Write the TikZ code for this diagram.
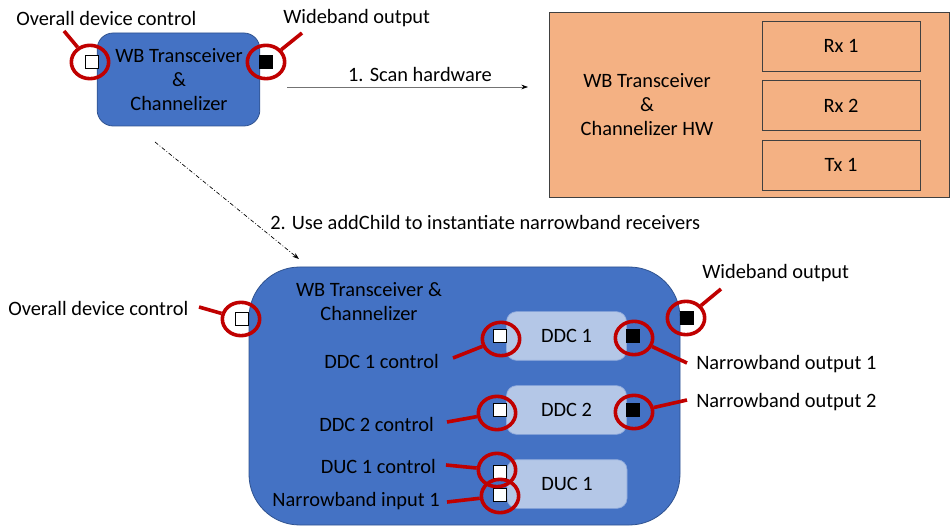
\documentclass[tikz,border=0pt]{standalone}
\usepackage{fontspec}
\setmainfont{Carlito}
\usepackage{tikz}
\usetikzlibrary{arrows.meta,shapes.geometric}

\definecolor{wbblue}{HTML}{4472C4}
\definecolor{wbedge}{HTML}{2F528F}
\definecolor{ddcfill}{HTML}{B4C7E7}
\definecolor{ddcedge}{HTML}{8FAADC}
\definecolor{hwfill}{HTML}{F4B183}
\definecolor{hwedge}{HTML}{404040}
\definecolor{ringred}{HTML}{C00000}

\tikzset{
  txt/.style={inner sep=0.75pt, font=\fontsize{15.3}{18}\selectfont},
  wbbox/.style={draw=wbedge, fill=wbblue, line width=0.6pt},
  ddcbox/.style={draw=ddcedge, fill=ddcfill, line width=0.5pt, rounded corners=7.5pt,
    minimum width=90pt, minimum height=36.5pt, txt},
  hwbox/.style={draw=hwedge, fill=hwfill, line width=0.6pt},
  rxbox/.style={hwbox, minimum width=118.5pt, minimum height=37.5pt, txt},
  inport/.style={draw=black, fill=white, line width=0.5pt, minimum size=10pt, inner sep=0pt},
  outport/.style={inport, fill=black},
  ring/.style={ellipse, draw=ringred, line width=2.7pt, minimum width=28pt, minimum height=25pt, inner sep=0pt},
  leader/.style={draw=ringred, line width=2.7pt},
}

\begin{document}
\begin{tikzpicture}[x=0.75pt,y=0.75pt,yscale=-1,xscale=1]
\useasboundingbox (0,0) rectangle (950,527);

% Scanned hardware
\node[hwbox, minimum width=300pt, minimum height=138.75pt] (hw) at (749,104.5) {};
\node[txt, align=center] (hwtext) at (647,105) {WB Transceiver\\\&\\Channelizer HW};
\node[rxbox] (rxone) at (841,46) {Rx 1};
\node[rxbox] (rxtwo) at (841,105.5) {Rx 2};
\node[rxbox] (txone) at (841,165) {Tx 1};

% Small device block
\node[wbbox, rounded corners=12pt, minimum width=122pt, minimum height=69.75pt] (wbsmall) at (178.5,79.5) {};
\node[txt, align=center] (wbsmalltext) at (179,80) {WB Transceiver\\\&\\Channelizer};
\node[inport] (ctlsmall) at (92,62) {};
\node[outport] (outsmall) at (266,62) {};
\node[ring] (ringctlsmall) at (90,62) {};
\node[ring] (ringoutsmall) at (266,62) {};
\coordinate (tipctlsmall) at (64,31);
\coordinate (tipoutsmall) at (302,33);
\draw[leader] (ringctlsmall) -- (tipctlsmall);
\draw[leader] (ringoutsmall) -- (tipoutsmall);
\node[txt, anchor=west] (lblctlsmall) at (15,18) {Overall device control};
\node[txt, anchor=west] (lbloutsmall) at (282,18) {Wideband output};

% Step 1
\coordinate (scanfrom) at (287,87);
\coordinate (scanto) at (528,87);
\draw[black!55, line width=0.5pt, -{Stealth[length=5pt, width=3.5pt, black]}] (scanfrom) -- (scanto);
\node[txt] (lblscan) at (420,75) {1. Scan hardware};

% Step 2
\coordinate (childfrom) at (155,142);
\coordinate (childto) at (299,259);
\draw[black, line width=0.5pt, dash pattern=on 3pt off 1.5pt on 0.6pt off 1.5pt, -{Stealth[length=5pt, width=3.5pt]}] (childfrom) -- (childto);
\node[txt, anchor=west] (lblchild) at (269,222) {2. Use addChild to instantiate narrowband receivers};

% Device block with children
\node[wbbox, rounded corners=38pt, minimum width=323.25pt, minimum height=193.5pt] (wbbig) at (464.5,396) {};
\node[txt, align=center] (wbbigtext) at (369,302) {WB Transceiver \&\\Channelizer};
\node[ddcbox] (ddcone) at (566.5,336) {DDC 1};
\node[ddcbox] (ddctwo) at (566.5,410) {DDC 2};
\node[ddcbox] (ducone) at (567,484) {DUC 1};

% Ports
\node[inport] (ctlbig) at (242,319) {};
\node[outport] (outbig) at (687,318) {};
\node[inport] (ctlddcone) at (500,336) {};
\node[outport] (outddcone) at (633,336) {};
\node[inport] (ctlddctwo) at (500,410) {};
\node[outport] (outddctwo) at (633,410) {};
\node[inport] (ctlducone) at (500,472) {};
\node[inport] (inducone) at (500,495) {};

% Rings
\node[ring] (ringctlbig) at (241,319) {};
\node[ring] (ringoutbig) at (686,318) {};
\node[ring] (ringctlddcone) at (501,339) {};
\node[ring] (ringoutddcone) at (634,338) {};
\node[ring] (ringctlddctwo) at (497,413) {};
\node[ring] (ringoutddctwo) at (634,412) {};
\node[ring] (ringctlducone) at (497,470) {};
\node[ring] (ringinducone) at (500,496) {};

% Leaders
\coordinate (tipctlbig) at (199,307);
\coordinate (tipoutbig) at (721,289);
\coordinate (tipctlddcone) at (453,358);
\coordinate (tipoutddcone) at (687,363);
\coordinate (tipctlddctwo) at (447,422);
\coordinate (tipoutddctwo) at (687,400);
\coordinate (tipctlducone) at (446,465);
\coordinate (tipinducone) at (447,502);
\draw[leader] (ringctlbig) -- (tipctlbig);
\draw[leader] (ringoutbig) -- (tipoutbig);
\draw[leader] (ringctlddcone) -- (tipctlddcone);
\draw[leader] (ringoutddcone) -- (tipoutddcone);
\draw[leader] (ringctlddctwo) -- (tipctlddctwo);
\draw[leader] (ringoutddctwo) -- (tipoutddctwo);
\draw[leader] (ringctlducone) -- (tipctlducone);
\draw[leader] (ringinducone) -- (tipinducone);

% Labels
\node[txt, anchor=west] (lblctlbig) at (7,308) {Overall device control};
\node[txt, anchor=west] (lbloutbig) at (701,273) {Wideband output};
\node[txt, anchor=east] (lblctlddcone) at (440,361) {DDC 1 control};
\node[txt, anchor=east] (lblctlddctwo) at (435,424) {DDC 2 control};
\node[txt, anchor=east] (lblctlducone) at (437,466) {DUC 1 control};
\node[txt, anchor=east] (lblinducone) at (441,501) {Narrowband input 1};
\node[txt, anchor=west] (lbloutddcone) at (695,364) {Narrowband output 1};
\node[txt, anchor=west] (lbloutddctwo) at (695,402) {Narrowband output 2};

\end{tikzpicture}
\end{document}
